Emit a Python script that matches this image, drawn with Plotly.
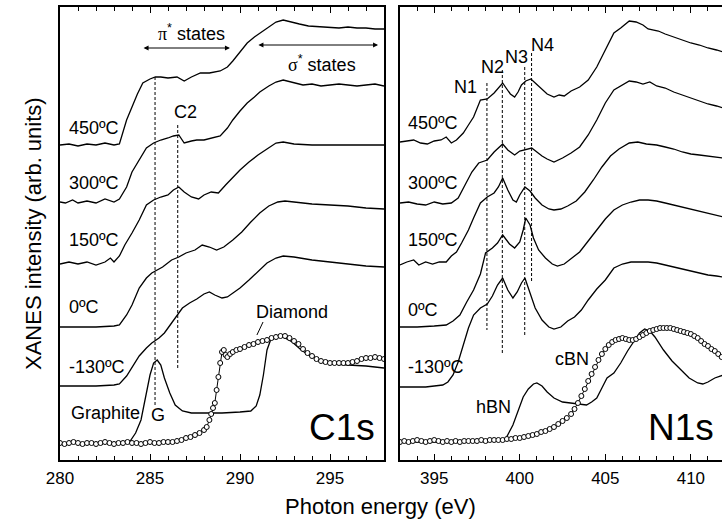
import plotly.graph_objects as go

FONT = "Arial, 'Liberation Sans', Helvetica, sans-serif"

# ---------------- C1s panel (photon energy in eV, intensity in arb. units) ----------------
c450_E = [280.0, 280.5, 281.0, 281.5, 282.0, 282.5, 283.0, 283.3, 283.7, 284.0, 284.3, 284.6, 285.0, 285.3,
          285.6, 286.0, 286.5, 286.9, 287.3, 287.8, 288.3, 288.9, 289.3, 289.6, 290.0, 290.4, 290.8, 291.2,
          291.6, 292.0, 292.4, 292.8, 293.3, 293.8, 294.5, 295.0, 295.5, 296.0, 296.5, 297.0, 297.5, 298.0]
c450_I = [315, 316, 314, 316, 315, 317, 315, 316, 340, 354, 366, 377, 381, 383,
          383, 382, 383, 379, 383, 387, 387, 389, 393, 399, 408, 417, 423, 428,
          433, 438, 440, 438, 436, 434, 433, 433, 432, 433, 432, 432, 431, 431]

c300_E = [280.0, 280.3, 280.7, 281.0, 281.5, 282.0, 282.5, 283.0, 283.3, 283.7, 284.0, 284.4, 284.8, 285.2,
          285.6, 286.0, 286.3, 286.6, 286.9, 287.3, 287.6, 288.0, 288.5, 288.9, 289.3, 289.6, 290.0, 290.4,
          290.8, 291.1, 291.6, 292.0, 292.4, 293.0, 293.5, 294.0, 294.5, 295.0, 295.5, 296.0, 296.5, 297.0,
          297.5, 298.0]
c300_I = [258, 257, 260, 257, 259, 257, 261, 258, 261, 273, 288, 300, 312, 317,
          320, 322, 324, 325, 317, 319, 320, 320, 322, 324, 332, 340, 349, 357,
          363, 368, 374, 378, 380, 377, 375, 376, 374, 375, 376, 375, 374, 375,
          376, 374]

c150_E = [280.0, 280.5, 281.0, 281.5, 282.0, 282.5, 282.8, 283.0, 283.3, 283.6, 284.0, 284.4, 284.8, 285.2,
          285.6, 286.0, 286.3, 286.6, 286.9, 287.3, 287.7, 288.0, 288.4, 288.8, 289.2, 289.6, 290.0, 290.5,
          291.0, 291.5, 292.0, 292.4, 293.0, 294.0, 295.0, 296.0, 297.0, 298.0]
c150_I = [196, 198, 196, 198, 195, 198, 202, 198, 204, 215, 227, 240, 255, 260,
          263, 265, 270, 273, 268, 263, 261, 265, 268, 267, 275, 283, 290, 298,
          305, 311, 317, 318, 316, 315, 315, 315, 315, 315]

c0_E = [280.0, 281.0, 282.0, 283.0, 283.3, 283.7, 284.0, 284.4, 284.8, 285.1, 285.7, 286.2, 286.6, 287.0,
        287.5, 287.9, 288.3, 288.7, 289.1, 289.6, 290.1, 290.6, 291.1, 291.6, 292.1, 292.5, 293.0, 294.0,
        295.0, 296.0, 297.0, 298.0]
c0_I = [133, 133, 133, 134, 135, 145, 155, 172, 182, 187, 193, 200, 203, 207,
        210, 215, 213, 210, 213, 220, 228, 238, 247, 254, 258, 259, 258, 256,
        255, 254, 252, 251]

cm130_E = [280.0, 281.0, 282.0, 283.0, 283.3, 283.7, 284.0, 284.4, 284.8, 285.1, 285.5, 285.8, 286.2, 286.5,
           286.8, 287.2, 287.6, 288.0, 288.3, 288.6, 289.0, 289.3, 289.7, 290.0, 290.5, 291.0, 291.5, 292.0,
           292.4, 293.0, 294.0, 295.0, 296.0, 297.0, 298.0]
cm130_I = [74, 74, 74, 75, 76, 84, 92, 104, 112, 117, 122, 127, 137, 145,
           152, 157, 161, 166, 168, 165, 162, 163, 168, 172, 180, 188, 197, 202,
           204, 203, 200, 198, 196, 194, 193]

graphite_E = [280.0, 281.0, 282.0, 283.0, 283.7, 283.9, 284.2, 284.5, 284.8, 285.0, 285.2, 285.4, 285.6, 285.8,
              286.1, 286.4, 286.8, 287.3, 288.0, 289.0, 290.0, 290.6, 290.9, 291.1, 291.3, 291.5, 291.7, 292.0,
              292.4, 292.9, 293.4, 293.9, 294.5, 295.2, 296.0, 297.0, 298.0]
graphite_I = [17, 17, 17, 17, 17, 19, 27, 40, 65, 85, 97, 100, 95, 82,
              67, 55, 49, 47, 47, 47, 48, 49, 54, 65, 85, 110, 120, 123,
              123, 118, 110, 104, 99, 96, 95, 94, 92]

diamond_E = [280.0, 280.25, 280.5, 280.75, 281.0, 281.25, 281.5, 281.75, 282.0, 282.25, 282.5, 282.75,
             283.0, 283.25, 283.5, 283.75, 284.0, 284.25, 284.5, 284.75, 285.0, 285.25, 285.5, 285.75,
             286.0, 286.25, 286.5, 286.75, 287.0, 287.25, 287.5, 287.75, 288.0, 288.15, 288.3, 288.4,
             288.5, 288.6, 288.7, 288.8, 288.9, 289.0, 289.1, 289.2, 289.3, 289.45, 289.6, 289.8,
             290.0, 290.25, 290.5, 290.75, 291.0, 291.25, 291.5, 291.75, 292.0, 292.25, 292.5, 292.75,
             293.0, 293.25, 293.5, 293.75, 294.0, 294.25, 294.5, 294.75, 295.0, 295.25, 295.5, 295.75,
             296.0, 296.25, 296.5, 296.75, 297.0, 297.25, 297.5, 297.75, 298.0]
diamond_I = [17, 16, 17, 18, 17, 16, 17, 17, 16, 17, 18, 17,
             16, 17, 17, 18, 17, 17, 16, 17, 18, 17, 17, 18,
             18, 18, 19, 20, 22, 23, 25, 27, 30, 33, 40, 46,
             52, 57, 70, 83, 97, 108, 110, 105, 103, 106, 108, 110,
             111, 113, 115, 116, 118, 119, 120, 122, 123, 124, 124, 122,
             119, 116, 111, 107, 104, 101, 99, 98, 97, 97, 97, 97,
             97, 98, 99, 101, 102, 102, 103, 102, 101]

# ---------------- N1s panel ----------------
n450_E = [393.0, 393.4, 393.8, 394.2, 394.6, 395.0, 395.4, 395.7, 396.0, 396.3, 396.7, 397.0, 397.3,
          397.7, 398.1, 398.5, 398.75, 399.0, 399.2, 399.45, 399.7, 399.9, 400.1, 400.35, 400.65, 400.9,
          401.2, 401.6, 402.0, 402.3, 402.6, 403.0, 403.5, 404.0, 404.5, 405.0, 405.5, 405.9, 406.4,
          406.8, 407.2, 407.5, 407.8, 408.1, 408.5, 409.0, 409.5, 410.0, 410.5, 411.0, 411.5, 411.9]
n450_I = [318, 319, 320, 317, 316, 319, 320, 323, 317, 320, 327, 335, 343,
          360, 361, 367, 372, 377, 372, 366, 363, 368, 375, 379, 381, 377,
          372, 366, 363, 365, 364, 369, 373, 380, 393, 410, 427, 432, 439,
          438, 435, 431, 430, 429, 426, 423, 420, 417, 415, 412, 410, 408]

n300_E = [393.0, 393.5, 394.0, 394.5, 395.0, 395.5, 396.0, 396.4, 396.8, 397.2, 397.6, 398.1, 398.5,
          398.8, 399.0, 399.3, 399.7, 400.0, 400.3, 400.7, 401.0, 401.3, 401.6, 402.0, 402.5, 403.0,
          403.5, 404.0, 404.5, 405.0, 405.5, 406.0, 406.4, 406.8, 407.2, 407.6, 408.0, 408.5, 409.0,
          409.5, 410.0, 410.5, 411.0, 411.5, 411.9]
n300_I = [257, 258, 256, 255, 258, 256, 257, 262, 275, 288, 297, 300, 308,
          313, 316, 310, 305, 309, 310, 312, 308, 304, 301, 298, 302, 307,
          313, 325, 340, 357, 370, 375, 379, 378, 376, 378, 374, 372, 368,
          365, 362, 359, 356, 354, 352]

n150_E = [393.0, 393.4, 393.8, 394.1, 394.5, 394.9, 395.3, 395.7, 396.0, 396.3, 396.6, 397.0, 397.3,
          397.7, 398.1, 398.5, 398.75, 399.0, 399.3, 399.6, 399.8, 400.0, 400.3, 400.6, 400.9, 401.3,
          401.7, 402.0, 402.4, 402.8, 403.3, 403.8, 404.3, 404.8, 405.3, 405.8, 406.4, 406.9, 407.4,
          408.0, 408.5, 409.0, 409.5, 410.0, 410.5, 411.0, 411.5, 411.9]
n150_I = [195, 198, 200, 195, 198, 196, 198, 198, 204, 208, 217, 230, 242,
          257, 263, 267, 273, 282, 270, 260, 258, 265, 273, 269, 262, 255,
          251, 250, 251, 254, 259, 268, 280, 293, 304, 311, 317, 318, 316,
          315, 313, 311, 308, 306, 305, 304, 303, 302]

n0_E = [393.0, 394.0, 395.0, 395.7, 396.1, 396.5, 396.9, 397.3, 397.7, 398.0, 398.4, 398.7, 399.0,
        399.4, 399.7, 400.0, 400.2, 400.35, 400.6, 400.8, 401.1, 401.5, 401.9, 402.2, 402.6, 403.0,
        403.5, 404.0, 404.5, 405.0, 405.5, 406.0, 406.5, 407.0, 407.5, 408.0, 408.5, 409.0, 409.5,
        410.0, 410.5, 411.0, 411.5, 411.9]
n0_I = [133, 133, 134, 135, 139, 145, 158, 170, 186, 207, 212, 217, 225,
        216, 212, 218, 230, 242, 235, 222, 210, 202, 196, 194, 196, 201,
        208, 219, 230, 241, 250, 255, 258, 260, 260, 259, 257, 255, 253,
        251, 249, 247, 245, 243]

nm130_E = [393.0, 393.5, 394.0, 394.5, 395.0, 395.5, 395.8, 396.1, 396.4, 396.7, 397.0, 397.3, 397.7,
           398.1, 398.4, 398.7, 399.0, 399.3, 399.6, 399.85, 400.1, 400.3, 400.6, 400.9, 401.3, 401.7,
           402.0, 402.4, 402.8, 403.2, 403.6, 404.0, 404.5, 405.0, 405.5, 406.0, 406.5, 407.0, 407.5,
           408.0, 408.5, 409.0, 409.5, 410.0, 410.5, 411.0, 411.5, 411.9]
nm130_I = [73, 73, 73, 73, 74, 75, 78, 85, 98, 115, 132, 145, 152,
           156, 164, 175, 182, 170, 162, 168, 177, 182, 168, 152, 140, 133,
           131, 133, 139, 143, 150, 160, 171, 180, 192, 196, 198, 198, 198,
           197, 195, 193, 191, 189, 187, 185, 184, 183]

hbn_E = [393.0, 394.0, 395.0, 396.0, 397.0, 398.0, 399.0, 399.2, 399.6, 399.9, 400.2, 400.5, 400.8,
         401.0, 401.3, 401.6, 402.0, 402.5, 403.0, 403.5, 403.9, 404.2, 404.5, 404.8, 405.1, 405.5,
         405.9, 406.3, 406.7, 407.0, 407.3, 407.6, 407.9, 408.4, 408.9, 409.4, 409.9, 410.4, 410.7,
         411.0, 411.4, 411.9]
hbn_I = [18, 18, 18, 18, 19, 19, 20, 22, 35, 50, 63, 71, 76,
         77, 74, 68, 62, 58, 57, 56, 55, 58, 62, 72, 82, 87,
         97, 109, 120, 127, 131, 129, 123, 110, 99, 90, 82, 77, 76,
         78, 82, 85]

cbn_E = [393.0, 393.25, 393.5, 393.75, 394.0, 394.25, 394.5, 394.75, 395.0, 395.25, 395.5, 395.75,
         396.0, 396.25, 396.5, 396.75, 397.0, 397.25, 397.5, 397.75, 398.0, 398.25, 398.5, 398.75,
         399.0, 399.25, 399.5, 399.75, 400.0, 400.25, 400.5, 400.75, 401.0, 401.25, 401.5, 401.75,
         402.0, 402.25, 402.5, 402.75, 403.0,
         403.2, 403.4, 403.6, 403.8, 404.0, 404.2, 404.4, 404.6, 404.8, 405.0, 405.2, 405.4, 405.6,
         405.8, 406.0, 406.2, 406.4, 406.6, 406.8, 407.0, 407.2, 407.4, 407.6, 407.8, 408.0, 408.2,
         408.4, 408.6, 408.8, 409.0, 409.2, 409.4, 409.6, 409.8, 410.0, 410.2, 410.4, 410.6, 410.8,
         411.0, 411.2, 411.4, 411.6, 411.8]
cbn_I = [18, 19, 18, 19, 20, 19, 18, 19, 20, 19, 18, 19,
         18, 19, 18, 19, 19, 19, 19, 20, 19, 20, 20, 20,
         20, 21, 21, 22, 22, 23, 24, 25, 26, 28, 29, 31,
         33, 36, 39, 42, 46,
         51, 57, 64, 71, 79, 86, 93, 100, 106, 111, 115, 118, 120,
         121, 122, 121, 120, 120, 121, 123, 125, 127, 129, 130, 131, 132,
         132, 132, 132, 131, 130, 129, 128, 127, 126, 124, 122, 119, 116,
         114, 111, 109, 106, 103]

temps = ["450ºC", "300ºC", "150ºC", "0ºC", "-130ºC"]
c_temp_label_y = [332, 277, 220, 153, 93]
n_temp_label_y = [337, 277, 220, 150, 93]

C_RANGE = [280, 298]
N_RANGE = [393.0, 411.82]
Y_RANGE = [0, 453]

fig = go.Figure()


def add_line(x, y, xa, ya):
    fig.add_trace(go.Scatter(x=x, y=y, mode="lines", xaxis=xa, yaxis=ya,
                             line=dict(color="black", width=1.3),
                             showlegend=False, hoverinfo="skip"))


def add_circles(x, y, xa, ya):
    fig.add_trace(go.Scatter(x=x, y=y, mode="lines+markers", xaxis=xa, yaxis=ya,
                             line=dict(color="black", width=1),
                             marker=dict(symbol="circle", size=5, color="white",
                                         line=dict(color="black", width=1)),
                             showlegend=False, hoverinfo="skip"))


for E, I in [(c450_E, c450_I), (c300_E, c300_I), (c150_E, c150_I), (c0_E, c0_I),
             (cm130_E, cm130_I), (graphite_E, graphite_I)]:
    add_line(E, I, "x", "y")
add_circles(diamond_E, diamond_I, "x", "y")

for E, I in [(n450_E, n450_I), (n300_E, n300_I), (n150_E, n150_I), (n0_E, n0_I),
             (nm130_E, nm130_I), (hbn_E, hbn_I)]:
    add_line(E, I, "x2", "y2")
add_circles(cbn_E, cbn_I, "x2", "y2")

tickfont = dict(family=FONT, size=17, color="black")
common_x = dict(ticks="inside", ticklen=6, tickwidth=1, tickcolor="black",
                showline=True, linewidth=1.5, linecolor="black", mirror="ticks",
                showgrid=False, zeroline=False, tickfont=tickfont, ticklabelstandoff=2,
                minor=dict(dtick=1, ticks="inside", ticklen=4, tickwidth=1, tickcolor="black"))
common_y = dict(range=Y_RANGE, showticklabels=False, ticks="", showline=True,
                linewidth=1.5, linecolor="black", showgrid=False, zeroline=False, domain=[0, 1])

fig.update_layout(
    width=722, height=520,
    margin=dict(l=60, r=0, t=7, b=60),
    paper_bgcolor="white", plot_bgcolor="white",
    xaxis=dict(domain=[0, 0.48943], range=C_RANGE, tickvals=[280, 285, 290, 295],
               anchor="y", **common_x),
    xaxis2=dict(domain=[0.51360, 1.0], range=N_RANGE, tickvals=[395, 400, 405, 410],
                anchor="y2", **common_x),
    yaxis=dict(anchor="x", mirror=True, **common_y),
    yaxis2=dict(anchor="x2", mirror=False, **common_y),
)

ann = []
lab = dict(family=FONT, size=18, color="black")
for t, yv in zip(temps, c_temp_label_y):
    ann.append(dict(x=280.39, y=yv, xref="x", yref="y", text=t, showarrow=False,
                    xanchor="left", yanchor="middle", font=lab))
for t, yv in zip(temps, n_temp_label_y):
    ann.append(dict(x=393.35, y=yv, xref="x2", yref="y2", text=t, showarrow=False,
                    xanchor="left", yanchor="middle", font=lab))

SERIF = "<span style=\"font-family:'Liberation Serif', 'Times New Roman', serif\">{}</span>"

# C1s panel labels
ann += [
    dict(x=282.55, y=47, xref="x", yref="y", text="Graphite", showarrow=False, font=lab),
    dict(x=285.45, y=45, xref="x", yref="y", text="G", showarrow=False, font=lab),
    dict(x=286.95, y=348, xref="x", yref="y", text="C2", showarrow=False, font=lab),
    dict(x=292.9, y=148, xref="x", yref="y", text="Diamond", showarrow=False, font=lab),
    dict(x=295.65, y=33, xref="x", yref="y", text="C1s", showarrow=False,
         font=dict(family=FONT, size=37, color="black")),
    dict(x=287.3, y=428, xref="x", yref="y", text=SERIF.format("π") + "<sup>*</sup> states",
         showarrow=False, font=lab),
    dict(x=294.55, y=397, xref="x", yref="y", text=SERIF.format("σ") + "<sup>*</sup> states",
         showarrow=False, font=lab),
    dict(x=289.44, y=412, ax=284.56, ay=412, xref="x", yref="y", axref="x", ayref="y",
         text="", showarrow=True, arrowhead=2, arrowside="end+start", arrowsize=1,
         arrowwidth=1, arrowcolor="black"),
    dict(x=297.67, y=415, ax=290.94, ay=415, xref="x", yref="y", axref="x", ayref="y",
         text="", showarrow=True, arrowhead=2, arrowside="end+start", arrowsize=1,
         arrowwidth=1, arrowcolor="black"),
]
# N1s panel labels
ann += [
    dict(x=396.8, y=373, xref="x2", yref="y2", text="N1", showarrow=False, font=lab),
    dict(x=398.4, y=393, xref="x2", yref="y2", text="N2", showarrow=False, font=lab),
    dict(x=399.8, y=403, xref="x2", yref="y2", text="N3", showarrow=False, font=lab),
    dict(x=401.3, y=415, xref="x2", yref="y2", text="N4", showarrow=False, font=lab),
    dict(x=398.45, y=53, xref="x2", yref="y2", text="hBN", showarrow=False, font=lab),
    dict(x=403.05, y=101, xref="x2", yref="y2", text="cBN", showarrow=False, font=lab),
    dict(x=409.4, y=33, xref="x2", yref="y2", text="N1s", showarrow=False,
         font=dict(family=FONT, size=37, color="black")),
]
# axis titles
ann += [
    dict(x=(380 - 60) / 662, y=(460 - 506) / 453, xref="paper", yref="paper",
         text="Photon energy (eV)", showarrow=False, xanchor="center", yanchor="middle",
         font=dict(family=FONT, size=22, color="black")),
    dict(x=(33 - 60) / 662, y=(460 - 234) / 453, xref="paper", yref="paper",
         text="XANES intensity (arb. units)", showarrow=False, textangle=-90,
         xanchor="center", yanchor="middle", font=dict(family=FONT, size=22, color="black")),
]
fig.update_layout(annotations=ann)

dash = dict(color="black", width=1, dash="3px,2px")
shapes = [
    dict(type="line", xref="x", yref="y", x0=285.28, x1=285.28, y0=383, y1=55, line=dash),
    dict(type="line", xref="x", yref="y", x0=286.54, x1=286.54, y0=335, y1=92, line=dash),
    dict(type="line", xref="x", yref="y", x0=291.28, x1=290.94, y0=138, y1=125,
         line=dict(color="black", width=1)),
    dict(type="line", xref="x2", yref="y2", x0=398.08, x1=398.08, y0=377, y1=130, line=dash),
    dict(type="line", xref="x2", yref="y2", x0=398.98, x1=398.98, y0=390, y1=105, line=dash),
    dict(type="line", xref="x2", yref="y2", x0=400.29, x1=400.29, y0=393, y1=125, line=dash),
    dict(type="line", xref="x2", yref="y2", x0=400.69, x1=400.69, y0=407, y1=177, line=dash),
]
fig.update_layout(shapes=shapes)

fig.write_html("out.html")
